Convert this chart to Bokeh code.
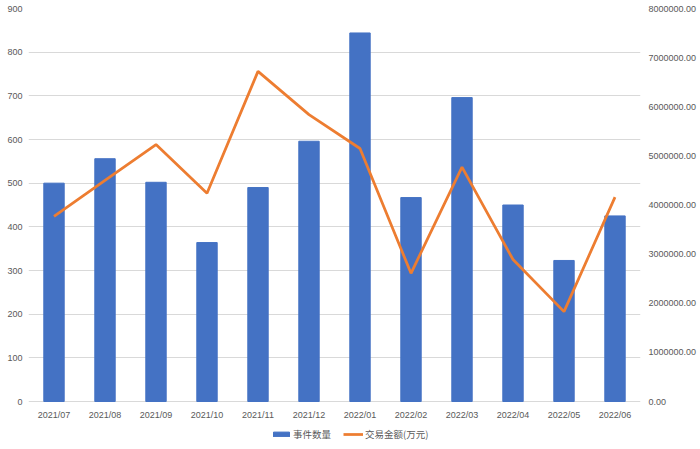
from bokeh.plotting import figure
from bokeh.models import (ColumnDataSource, Range1d, LinearAxis, FixedTicker,
                          NumeralTickFormatter, Legend, LegendItem)
from bokeh.embed import file_html
from bokeh.resources import INLINE

months = ["2021/07", "2021/08", "2021/09", "2021/10", "2021/11", "2021/12",
          "2022/01", "2022/02", "2022/03", "2022/04", "2022/05", "2022/06"]
event_counts = [500, 556, 502, 364, 490, 596, 844, 467, 696, 450, 323, 425]
amounts = [3770000, 4500000, 5230000, 4240000, 6720000, 5840000,
           5150000, 2610000, 4770000, 2890000, 1830000, 4160000]

label_color = "#595959"
grid_color = "#D9D9D9"
tick_font = "Liberation Sans"
cjk_font = "Noto Sans CJK SC"

source = ColumnDataSource(dict(month=months, count=event_counts, amount=amounts))

# the frame runs down to the bottom of the page so that the legend under the
# month labels is not clipped; the ranges start below zero to leave that room
COUNT_MAX, AMOUNT_MAX = 900, 8000000
below = 48 / 393 * COUNT_MAX

p = figure(
    x_range=months,
    y_range=Range1d(-below, COUNT_MAX),
    width=700, height=449,
    toolbar_location=None,
    output_backend="svg",
    min_border_top=8, min_border_left=28, min_border_right=60, min_border_bottom=0,
)
p.extra_y_ranges = {"amount": Range1d(-below * AMOUNT_MAX / COUNT_MAX, AMOUNT_MAX)}

# --- axes ---
p.yaxis.ticker = FixedTicker(ticks=list(range(0, COUNT_MAX + 1, 100)))
p.xaxis.fixed_location = 0
p.xaxis.major_label_standoff = 8
p.yaxis.major_label_standoff = 6

right = LinearAxis(y_range_name="amount",
                   ticker=FixedTicker(ticks=list(range(0, AMOUNT_MAX + 1, 1000000))),
                   formatter=NumeralTickFormatter(format="0.00"))
right.major_label_standoff = 8
p.add_layout(right, "right")

for ax in p.axis:
    ax.axis_line_color = None
    ax.major_tick_line_color = None
    ax.minor_tick_line_color = None
    ax.major_tick_out = 0
    ax.major_label_text_color = label_color
    ax.major_label_text_font = tick_font
    ax.major_label_text_font_size = "9px"

p.xgrid.grid_line_color = None
p.ygrid.grid_line_color = grid_color
p.ygrid.grid_line_width = 1
p.outline_line_color = None

# --- glyphs ---
bars = p.vbar(x="month", top="count", width=0.4, source=source,
              fill_color="#4472C4", line_color="#4472C4")
line = p.line(x="month", y="amount", source=source, y_range_name="amount",
              line_color="#ED7D31", line_width=2.75)

legend = Legend(
    items=[LegendItem(label="事件数量", renderers=[bars]),
           LegendItem(label="交易金额(万元)", renderers=[line])],
    orientation="horizontal",
    location=(243, 8),
    margin=0, padding=0, spacing=12,
    glyph_width=20, glyph_height=6,
    label_standoff=2, label_height=12,
    label_text_font=cjk_font, label_text_font_size="9.5px",
    label_text_color=label_color,
    border_line_color=None, background_fill_alpha=0,
)
p.add_layout(legend)

open("out.html", "w").write(file_html(p, INLINE))
